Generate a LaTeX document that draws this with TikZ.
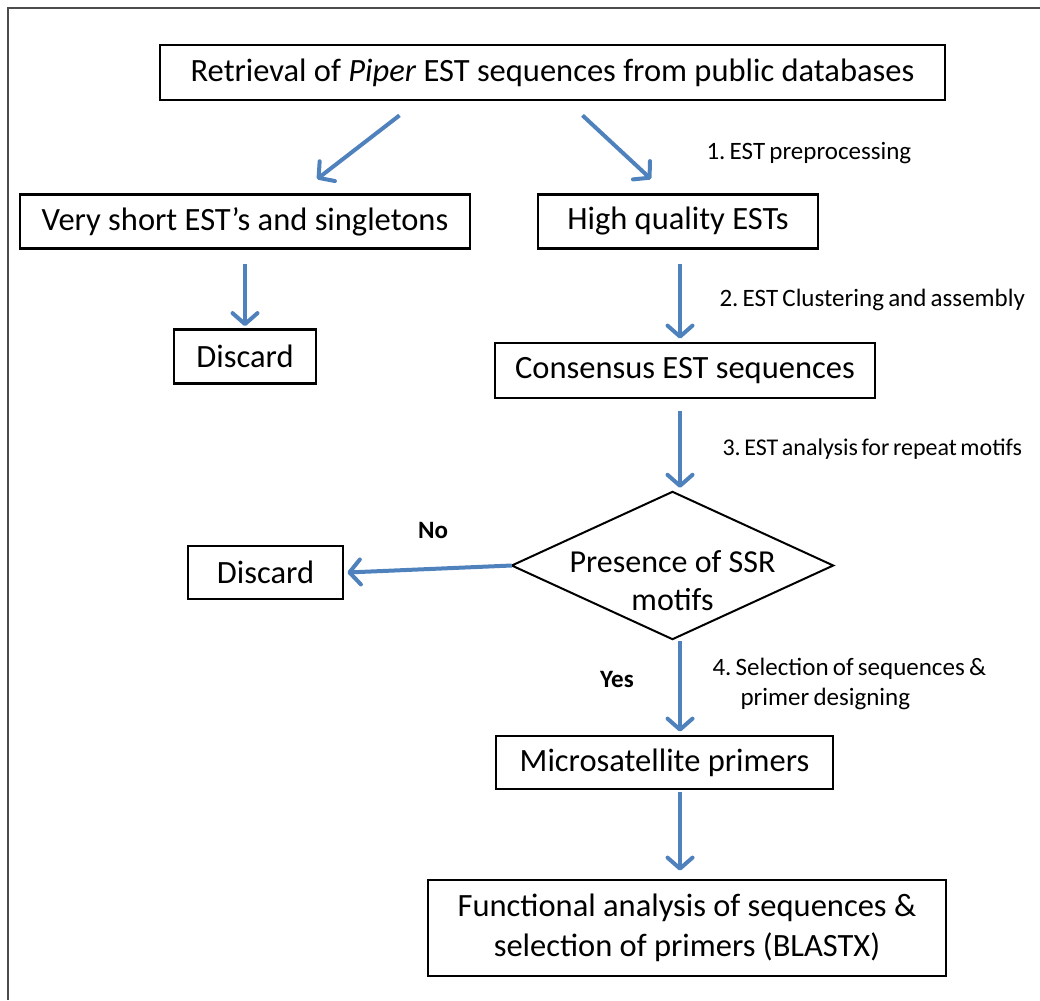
\documentclass[tikz,border=0pt]{standalone}
\usepackage{fontspec}
\setmainfont{Carlito}
\frenchspacing
\usetikzlibrary{arrows.meta,calc}
\definecolor{flowblue}{HTML}{4F81BD}
\newcommand\notefont{\fontsize{25}{30}\selectfont\spaceskip 0.17em plus 0.1em\relax}
\newcommand\smallnotefont{\fontsize{24}{30}\selectfont\spaceskip 0.15em plus 0.1em\relax}

\begin{document}
\begin{tikzpicture}[x=1pt,y=-1pt,
  box/.style={rectangle,draw,line width=2.8pt,inner sep=0pt,align=center,font=\fontsize{32.5}{40}\selectfont},
  link/.style={flowblue,line width=4pt,-{Straight Barb[length=11pt,width=25pt,round]}},
  note/.style={anchor=west,align=left,font=\notefont},
  answer/.style={font=\fontsize{25}{30}\selectfont\bfseries}]
\useasboundingbox (0,0) rectangle (1040,1000);
\draw[black!70,line width=1.2pt] (8,1000) -- (8,8) -- (1040,8);
\coordinate (spine) at (680,0);

\node [box,minimum width=785pt,minimum height=55pt] (top) at (552.5,72.5) {Retrieval of \textit{Piper} EST sequences from public databases};
\node [box,minimum width=450pt,minimum height=54pt] (vshort) at (245,221.5) {Very short EST’s and singletons};
\node [box,minimum width=280pt,minimum height=54pt] (hq) at (678,221.5) {High quality ESTs};
\node [box,minimum width=142pt,minimum height=54pt] (disc1) at (245,356.5) {Discard};
\node [box,minimum width=380pt,minimum height=55pt] (cons) at (685,370.5) {Consensus EST sequences};
\node [inner sep=0pt,minimum width=321pt,minimum height=147pt] (ssr) at (672.5,565.5) {};
\draw [line width=2pt,line join=miter] (ssr.north) -- (ssr.east) -- (ssr.south) -- (ssr.west) -- cycle;
\node [align=center,font=\fontsize{32}{38}\selectfont] (ssrtext) at ($(ssr.center)+(0,15)$) {Presence of SSR\\motifs};
\node [box,minimum width=155pt,minimum height=53pt] (disc2) at (265.5,572.5) {Discard};
\node [box,minimum width=337pt,minimum height=53pt] (micro) at (664.5,762.5) {Microsatellite primers};
\node [box,minimum width=518pt,minimum height=96pt] (func) at (687,928) {Functional analysis of sequences \&\\selection of primers (BLASTX)};

% step labels
\node [note] (s1) at (703,153) {1. EST preprocessing};
\node [note] (s2) at (716,300) {2. EST Clustering and assembly};
\node [note,font=\smallnotefont] (s3) at (719,449) {3. EST analysis for repeat motifs};
\node [note] (s4) at (709,684) {4. Selection of sequences \&\\\hspace*{28pt}primer designing};
\node [answer] (no) at (433,530) {No};
\node [answer] (yes) at (617,679) {Yes};

% arrows
\draw [link] ($(top.south)+(-153,14)$) -- ($(vshort.north)+(72,-14)$);
\draw [link] ($(top.south)+(30,14)$) -- ($(hq.north)+(-27,-14)$);
\draw [link] ($(vshort.south)+(0,14)$) -- ($(disc1.north)+(0,-2)$);
\draw [link] ($(hq.south -| spine)+(0,14)$) -- ($(cons.north -| spine)+(0,-3)$);
\draw [link] ($(cons.south -| spine)+(0,12)$) -- ($(ssr.north -| spine)+(0,-4)$);
\draw [link] (ssr.west) -- ($(disc2.east)+(3,0)$);
\draw [link] ($(ssr.south -| spine)+(0,2)$) -- ($(micro.north -| spine)+(0,-3)$);
\draw [link] ($(micro.south -| spine)+(0,2)$) -- ($(func.north -| spine)+(0,-8)$);
\end{tikzpicture}
\end{document}
